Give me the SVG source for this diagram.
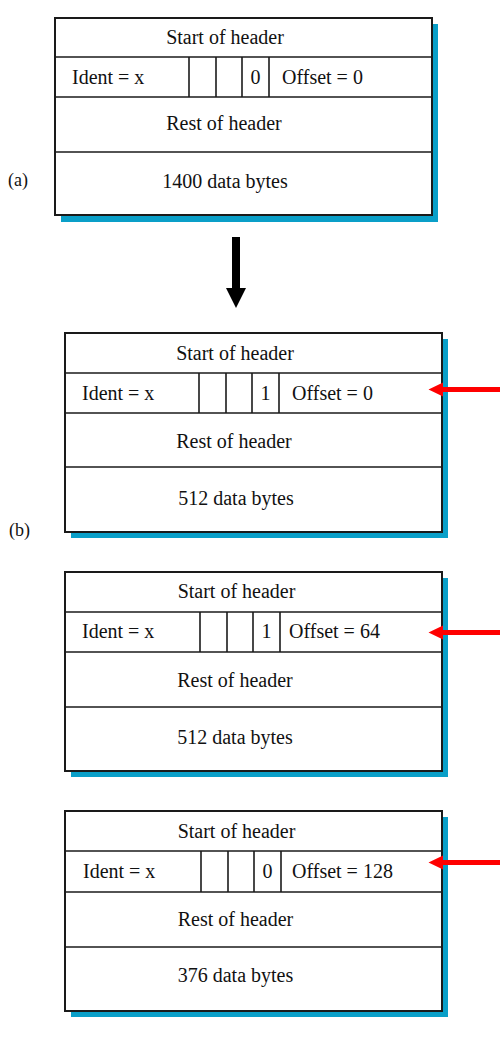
<svg xmlns="http://www.w3.org/2000/svg" width="500" height="1040" viewBox="0 0 500 1040">
<style>
  text { font-family: "Liberation Serif", "Times New Roman", serif; font-size: 20px; fill: #111; }
  .c { text-anchor: middle; }
  .lbl { font-size: 18px; }
  .shadow { fill: #0a9fc8; }
  .box { fill: #fff; stroke: #1a1a1a; stroke-width: 2; }
  .ln { stroke: #1a1a1a; stroke-width: 1.6; fill: none; }
  .red { fill: #ff0000; }
  .blk { fill: #000; }
</style>
<rect width="500" height="1040" fill="#fff"/>

<g id="frag-a">
  <rect class="shadow" x="61" y="24" width="377" height="198"/>
  <rect class="box" x="55" y="18" width="377" height="197"/>
  <line class="ln" x1="55" y1="57" x2="432" y2="57"/>
  <line class="ln" x1="55" y1="97" x2="432" y2="97"/>
  <line class="ln" x1="55" y1="152" x2="432" y2="152"/>
  <line class="ln" x1="189" y1="57" x2="189" y2="97"/>
  <line class="ln" x1="216" y1="57" x2="216" y2="97"/>
  <line class="ln" x1="242" y1="57" x2="242" y2="97"/>
  <line class="ln" x1="269" y1="57" x2="269" y2="97"/>
  <text class="c" x="225" y="44">Start of header</text>
  <text x="72" y="84">Ident = x</text>
  <text class="c" x="255.5" y="84">0</text>
  <text x="282" y="84">Offset = 0</text>
  <text class="c" x="224" y="130">Rest of header</text>
  <text class="c" x="225" y="188">1400 data bytes</text>
</g>
<text id="label-a" class="lbl" x="8" y="186">(a)</text>

<g id="frag-b1">
  <rect class="shadow" x="71" y="339" width="377" height="199"/>
  <rect class="box" x="65" y="333" width="377" height="199"/>
  <line class="ln" x1="65" y1="373" x2="442" y2="373"/>
  <line class="ln" x1="65" y1="413" x2="442" y2="413"/>
  <line class="ln" x1="65" y1="467" x2="442" y2="467"/>
  <line class="ln" x1="199" y1="373" x2="199" y2="413"/>
  <line class="ln" x1="226" y1="373" x2="226" y2="413"/>
  <line class="ln" x1="252" y1="373" x2="252" y2="413"/>
  <line class="ln" x1="279" y1="373" x2="279" y2="413"/>
  <text class="c" x="235" y="360">Start of header</text>
  <text x="82" y="400">Ident = x</text>
  <text class="c" x="265.5" y="400">1</text>
  <text x="292" y="400">Offset = 0</text>
  <text class="c" x="234" y="448">Rest of header</text>
  <text class="c" x="236" y="505">512 data bytes</text>
</g>
<text id="label-b" class="lbl" x="9" y="536">(b)</text>

<g id="frag-b2">
  <rect class="shadow" x="71" y="578" width="377" height="199"/>
  <rect class="box" x="65" y="572" width="377" height="199"/>
  <line class="ln" x1="65" y1="612" x2="442" y2="612"/>
  <line class="ln" x1="65" y1="652" x2="442" y2="652"/>
  <line class="ln" x1="65" y1="707" x2="442" y2="707"/>
  <line class="ln" x1="200" y1="612" x2="200" y2="652"/>
  <line class="ln" x1="227" y1="612" x2="227" y2="652"/>
  <line class="ln" x1="253" y1="612" x2="253" y2="652"/>
  <line class="ln" x1="280" y1="612" x2="280" y2="652"/>
  <text class="c" x="236.5" y="598">Start of header</text>
  <text x="82" y="638">Ident = x</text>
  <text class="c" x="266.5" y="638">1</text>
  <text x="289" y="638">Offset = 64</text>
  <text class="c" x="235" y="687">Rest of header</text>
  <text class="c" x="235" y="744">512 data bytes</text>
</g>

<g id="frag-b3">
  <rect class="shadow" x="71" y="817" width="377" height="200"/>
  <rect class="box" x="65" y="811" width="377" height="200"/>
  <line class="ln" x1="65" y1="851" x2="442" y2="851"/>
  <line class="ln" x1="65" y1="892" x2="442" y2="892"/>
  <line class="ln" x1="65" y1="947" x2="442" y2="947"/>
  <line class="ln" x1="201" y1="851" x2="201" y2="892"/>
  <line class="ln" x1="228" y1="851" x2="228" y2="892"/>
  <line class="ln" x1="254" y1="851" x2="254" y2="892"/>
  <line class="ln" x1="281" y1="851" x2="281" y2="892"/>
  <text class="c" x="236.5" y="838">Start of header</text>
  <text x="83" y="878">Ident = x</text>
  <text class="c" x="267.5" y="878">0</text>
  <text x="292" y="878">Offset = 128</text>
  <text class="c" x="235.5" y="926">Rest of header</text>
  <text class="c" x="235.5" y="982">376 data bytes</text>
</g>

<g id="connectors">
  <polygon class="blk" points="232,237 240,237 240,288 246,288 236,308 226,288 232,288"/>
  <polygon class="red" points="428.5,389.5 443,382.5 443,387 500,387 500,392 443,392 443,396.5"/>
  <polygon class="red" points="428.5,632.5 443,625.5 443,630 500,630 500,635 443,635 443,639.5"/>
  <polygon class="red" points="428.5,862.5 443,855.5 443,860 500,860 500,865 443,865 443,869.5"/>
</g>
</svg>
